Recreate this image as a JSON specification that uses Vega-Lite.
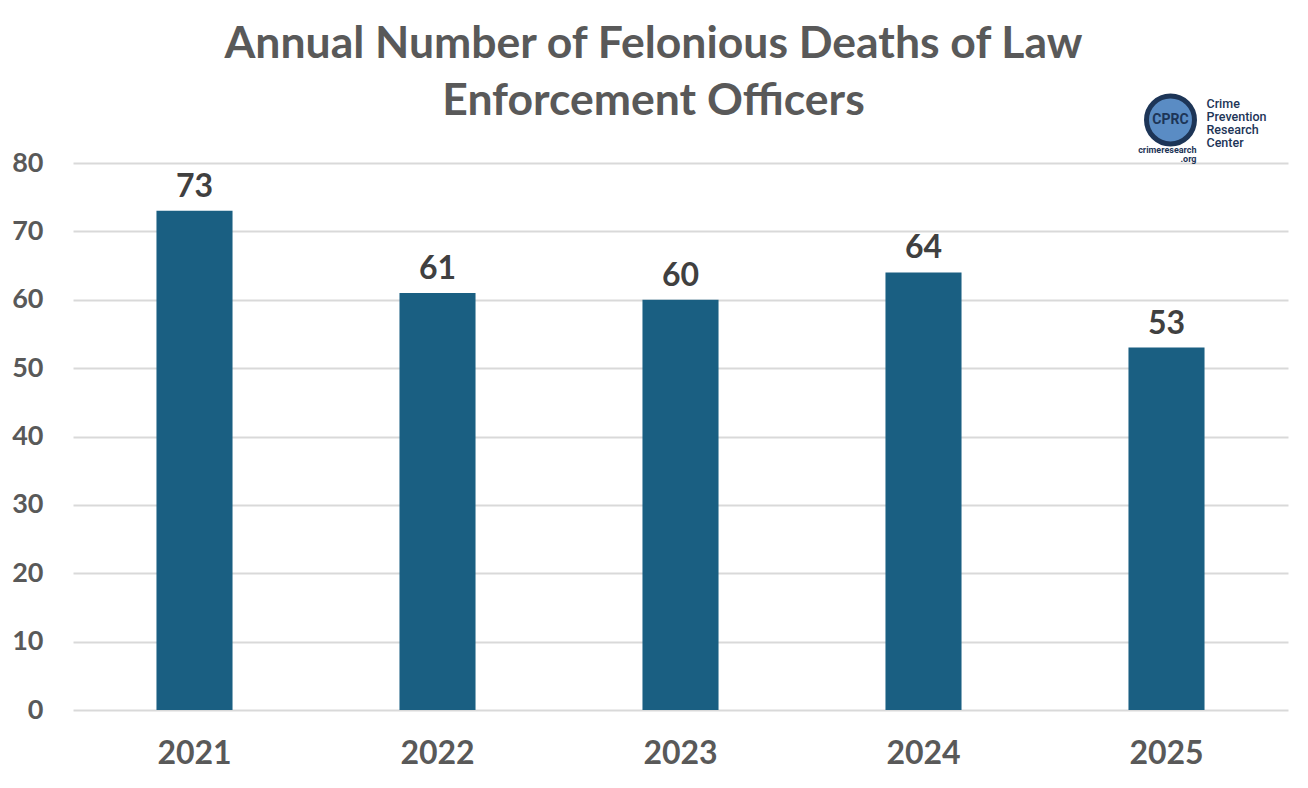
{
  "$schema": "https://vega.github.io/schema/vega-lite/v6.json",
  "width": 1215,
  "height": 547,
  "autosize": {"type": "none"},
  "padding": {"left": 73, "top": 163, "right": 20, "bottom": 78},
  "background": "white",
  "config": {"view": {"stroke": null}, "font": "Lato"},
  "title": {
    "text": ["Annual Number of Felonious Deaths of Law", "Enforcement Officers"],
    "font": "Lato",
    "fontSize": 44.5,
    "fontWeight": "bold",
    "color": "#595959",
    "anchor": "middle",
    "frame": "group",
    "lineHeight": 57,
    "offset": 40,
    "dy": 79,
    "dx": -27
  },
  "layer": [
    {
      "data": {"values": [
        {"year": "2021", "deaths": 73},
        {"year": "2022", "deaths": 61},
        {"year": "2023", "deaths": 60},
        {"year": "2024", "deaths": 64},
        {"year": "2025", "deaths": 53}
      ]},
      "encoding": {
        "x": {"field": "year", "type": "nominal", "sort": null,
          "scale": {"paddingInner": 0, "paddingOuter": 0},
          "axis": {"title": null, "labelAngle": 0, "labelFont": "Lato", "labelFontSize": 32, "labelFontWeight": "bold", "labelColor": "#595959", "labelPadding": 28, "ticks": false, "domain": false, "grid": false}},
        "y": {"field": "deaths", "type": "quantitative",
          "scale": {"domain": [0, 80]},
          "axis": {"title": null, "values": [0,10,20,30,40,50,60,70,80], "labelFont": "Lato", "labelFontSize": 27, "labelFontWeight": "bold", "labelColor": "#595959", "labelPadding": 30, "ticks": false, "domain": false, "grid": true, "gridColor": "#d9d9d9", "gridWidth": 2}}
      },
      "layer": [
        {"mark": {"type": "bar", "color": "#1a5f82", "width": {"band": 0.313}}},
        {"mark": {"type": "text", "baseline": "alphabetic", "dy": -14, "font": "Lato", "fontSize": 32, "fontWeight": "bold", "color": "#404040"},
          "encoding": {"text": {"field": "deaths", "type": "quantitative"}}}
      ]
    },
    {
      "data": {"values": [
        {"year": "2025", "v": 86.3, "label": "CPRC"}
      ]},
      "mark": {"type": "point", "filled": true, "shape": "circle", "size": 2300, "color": "#5a8cc4", "stroke": "#1d3557", "strokeWidth": 5, "opacity": 1, "clip": false, "xOffset": 4},
      "encoding": {
        "x": {"field": "year", "type": "nominal"},
        "y": {"field": "v", "type": "quantitative"}
      }
    },
    {
      "data": {"values": [
        {"year": "2025", "v": 86.3, "label": "CPRC"}
      ]},
      "mark": {"type": "text", "font": "Roboto", "fontSize": 14, "fontWeight": "bold", "color": "#1d3557", "baseline": "middle", "dx": 4, "clip": false},
      "encoding": {
        "x": {"field": "year", "type": "nominal"},
        "y": {"field": "v", "type": "quantitative"},
        "text": {"field": "label"}
      }
    },
    {
      "data": {"values": [
        {"year": "2025", "v": 88.6, "label": "Crime"},
        {"year": "2025", "v": 86.7, "label": "Prevention"},
        {"year": "2025", "v": 84.8, "label": "Research"},
        {"year": "2025", "v": 82.9, "label": "Center"}
      ]},
      "mark": {"type": "text", "font": "Roboto", "fontSize": 12.5, "fontWeight": 500, "color": "#1d3557", "align": "left", "baseline": "middle", "dx": 40, "clip": false},
      "encoding": {
        "x": {"field": "year", "type": "nominal"},
        "y": {"field": "v", "type": "quantitative"},
        "text": {"field": "label"}
      }
    },
    {
      "data": {"values": [
        {"year": "2025", "v": 81.9, "label": "crimeresearch"},
        {"year": "2025", "v": 80.6, "label": ".org"}
      ]},
      "mark": {"type": "text", "font": "Roboto", "fontSize": 9, "fontWeight": "bold", "color": "#1d3557", "align": "right", "baseline": "middle", "dx": 30, "clip": false},
      "encoding": {
        "x": {"field": "year", "type": "nominal"},
        "y": {"field": "v", "type": "quantitative"},
        "text": {"field": "label"}
      }
    }
  ]
}
